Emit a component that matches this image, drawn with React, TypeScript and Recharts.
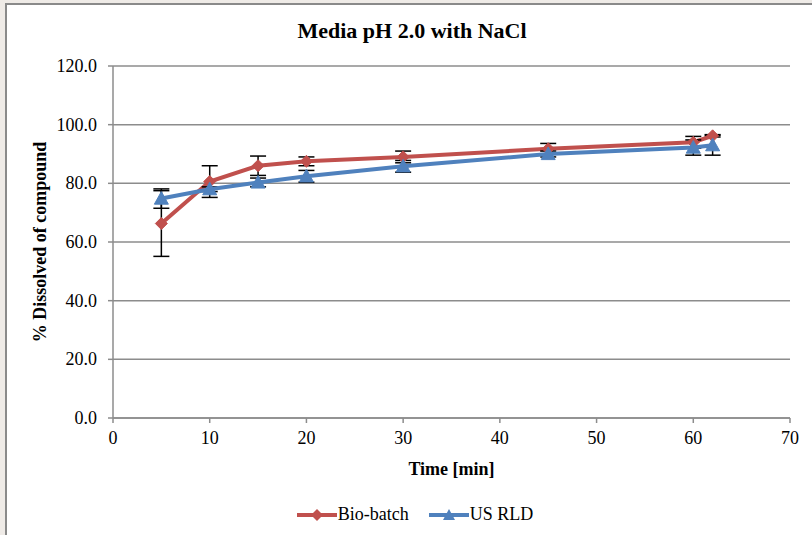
import { LineChart, Line, XAxis, YAxis, CartesianGrid, ErrorBar } from 'recharts'

const times = [5, 10, 15, 20, 30, 45, 60, 62]
const bioBatch = [66.3, 80.6, 86.0, 87.5, 89.0, 91.8, 94.0, 96.2]
const bioBatchErr = [11.2, 5.4, 3.3, 1.5, 2.0, 1.8, 2.0, 0.4]
const usRld = [74.8, 78.0, 80.3, 82.4, 85.8, 90.0, 92.2, 93.0]
const usRldErr = [3.3, 0.8, 1.5, 2.0, 2.0, 1.0, 2.6, 3.4]
const xTicks = [0, 10, 20, 30, 40, 50, 60, 70]
const yTicks = [0, 20, 40, 60, 80, 100, 120]

const data = times.map((t, i) => ({
  t,
  bio: bioBatch[i],
  bioErr: bioBatchErr[i],
  rld: usRld[i],
  rldErr: usRldErr[i],
}))

const RED = '#C0504D'
const BLUE = '#4F81BD'
const FONT = "'Liberation Serif', 'Times New Roman', serif"

const Diamond = (p: any) => {
  const { cx, cy } = p
  if (cx == null || cy == null) return <g key={p.index} />
  const r = 6
  return (
    <path
      key={p.index}
      d={`M${cx},${cy - r} L${cx + r},${cy} L${cx},${cy + r} L${cx - r},${cy} Z`}
      fill={RED}
      stroke={RED}
      strokeWidth={1}
    />
  )
}

const Triangle = (p: any) => {
  const { cx, cy } = p
  if (cx == null || cy == null) return <g key={p.index} />
  const r = 7
  return (
    <path
      key={p.index}
      d={`M${cx},${cy - r} L${cx + r},${cy + r * 0.8} L${cx - r},${cy + r * 0.8} Z`}
      fill={BLUE}
      stroke={BLUE}
      strokeWidth={1}
    />
  )
}

// tick text drawn by hand so the serif font actually sticks
const XTick = (p: any) => (
  <text x={p.x} y={p.y + 17} textAnchor="middle" fontFamily={FONT} fontSize={18} fill="#000">
    {p.payload.value}
  </text>
)

const YTick = (p: any) => (
  <text x={p.x} y={p.y + 6} textAnchor="end" fontFamily={FONT} fontSize={18} fill="#000">
    {Number(p.payload.value).toFixed(1)}
  </text>
)

export default function App() {
  return (
    <div style={{ position: 'absolute', left: 0, top: 0, width: 812, height: 535, background: '#efebe7', overflow: 'hidden' }}>
      <div
        style={{
          position: 'absolute',
          left: 5,
          top: 3,
          width: 807,
          height: 532,
          background: '#fff',
          borderLeft: '2px solid #8a8a8a',
          borderTop: '2px solid #8a8a8a',
        }}
      >
        <div
          style={{
            position: 'absolute',
            left: 0,
            width: 810,
            top: 13,
            textAlign: 'center',
            fontFamily: FONT,
            fontWeight: 'bold',
            fontSize: 22,
            color: '#000',
          }}
        >
          Media pH 2.0 with NaCl
        </div>
        <LineChart width={805} height={530} data={data} margin={{ top: 61, right: 22, bottom: 60, left: 26 }}>
          <CartesianGrid horizontal vertical={false} stroke="#8c8c8c" strokeWidth={1.5} />
          <XAxis
            dataKey="t"
            type="number"
            domain={[0, 70]}
            ticks={xTicks}
            height={57}
            tick={XTick}
            tickSize={5}
            tickMargin={4}
            stroke="#8c8c8c"
            strokeWidth={1.5}
            label={{
              value: 'Time [min]',
              position: 'insideBottom',
              offset: 0,
              style: { fontFamily: FONT, fontWeight: 'bold', fontSize: 18, fill: '#000' },
            }}
          />
          <YAxis
            type="number"
            domain={[0, 120]}
            ticks={yTicks}
            width={80}
            tick={YTick}
            tickSize={5}
            tickMargin={11}
            stroke="#8c8c8c"
            strokeWidth={1.5}
            label={{
              value: '% Dissolved of compound',
              angle: -90,
              position: 'insideLeft',
              offset: 7,
              style: { textAnchor: 'middle', fontFamily: FONT, fontWeight: 'bold', fontSize: 18, fill: '#000' },
            }}
          />
          <Line
            dataKey="bio"
            stroke={RED}
            strokeWidth={4}
            dot={Diamond}
            activeDot={false}
            isAnimationActive={false}
          >
            <ErrorBar dataKey="bioErr" direction="y" width={8} stroke="#000" strokeWidth={1.5} />
          </Line>
          <Line
            dataKey="rld"
            stroke={BLUE}
            strokeWidth={4}
            dot={Triangle}
            activeDot={false}
            isAnimationActive={false}
          >
            <ErrorBar dataKey="rldErr" direction="y" width={8} stroke="#000" strokeWidth={1.5} />
          </Line>
        </LineChart>
        <div
          style={{
            position: 'absolute',
            left: 0,
            width: 816,
            top: 499,
            display: 'flex',
            justifyContent: 'center',
            alignItems: 'center',
            fontFamily: FONT,
            fontSize: 18,
            color: '#000',
          }}
        >
          <svg width={40} height={14}>
            <line x1={0} y1={7} x2={40} y2={7} stroke={RED} strokeWidth={4} />
            <path d="M20,1 L26,7 L20,13 L14,7 Z" fill={RED} />
          </svg>
          <span style={{ marginLeft: 1, marginRight: 20 }}>Bio-batch</span>
          <svg width={40} height={14}>
            <line x1={0} y1={7} x2={40} y2={7} stroke={BLUE} strokeWidth={4} />
            <path d="M20,1 L26,12 L14,12 Z" fill={BLUE} />
          </svg>
          <span style={{ marginLeft: 1 }}>US RLD</span>
        </div>
      </div>
    </div>
  )
}
